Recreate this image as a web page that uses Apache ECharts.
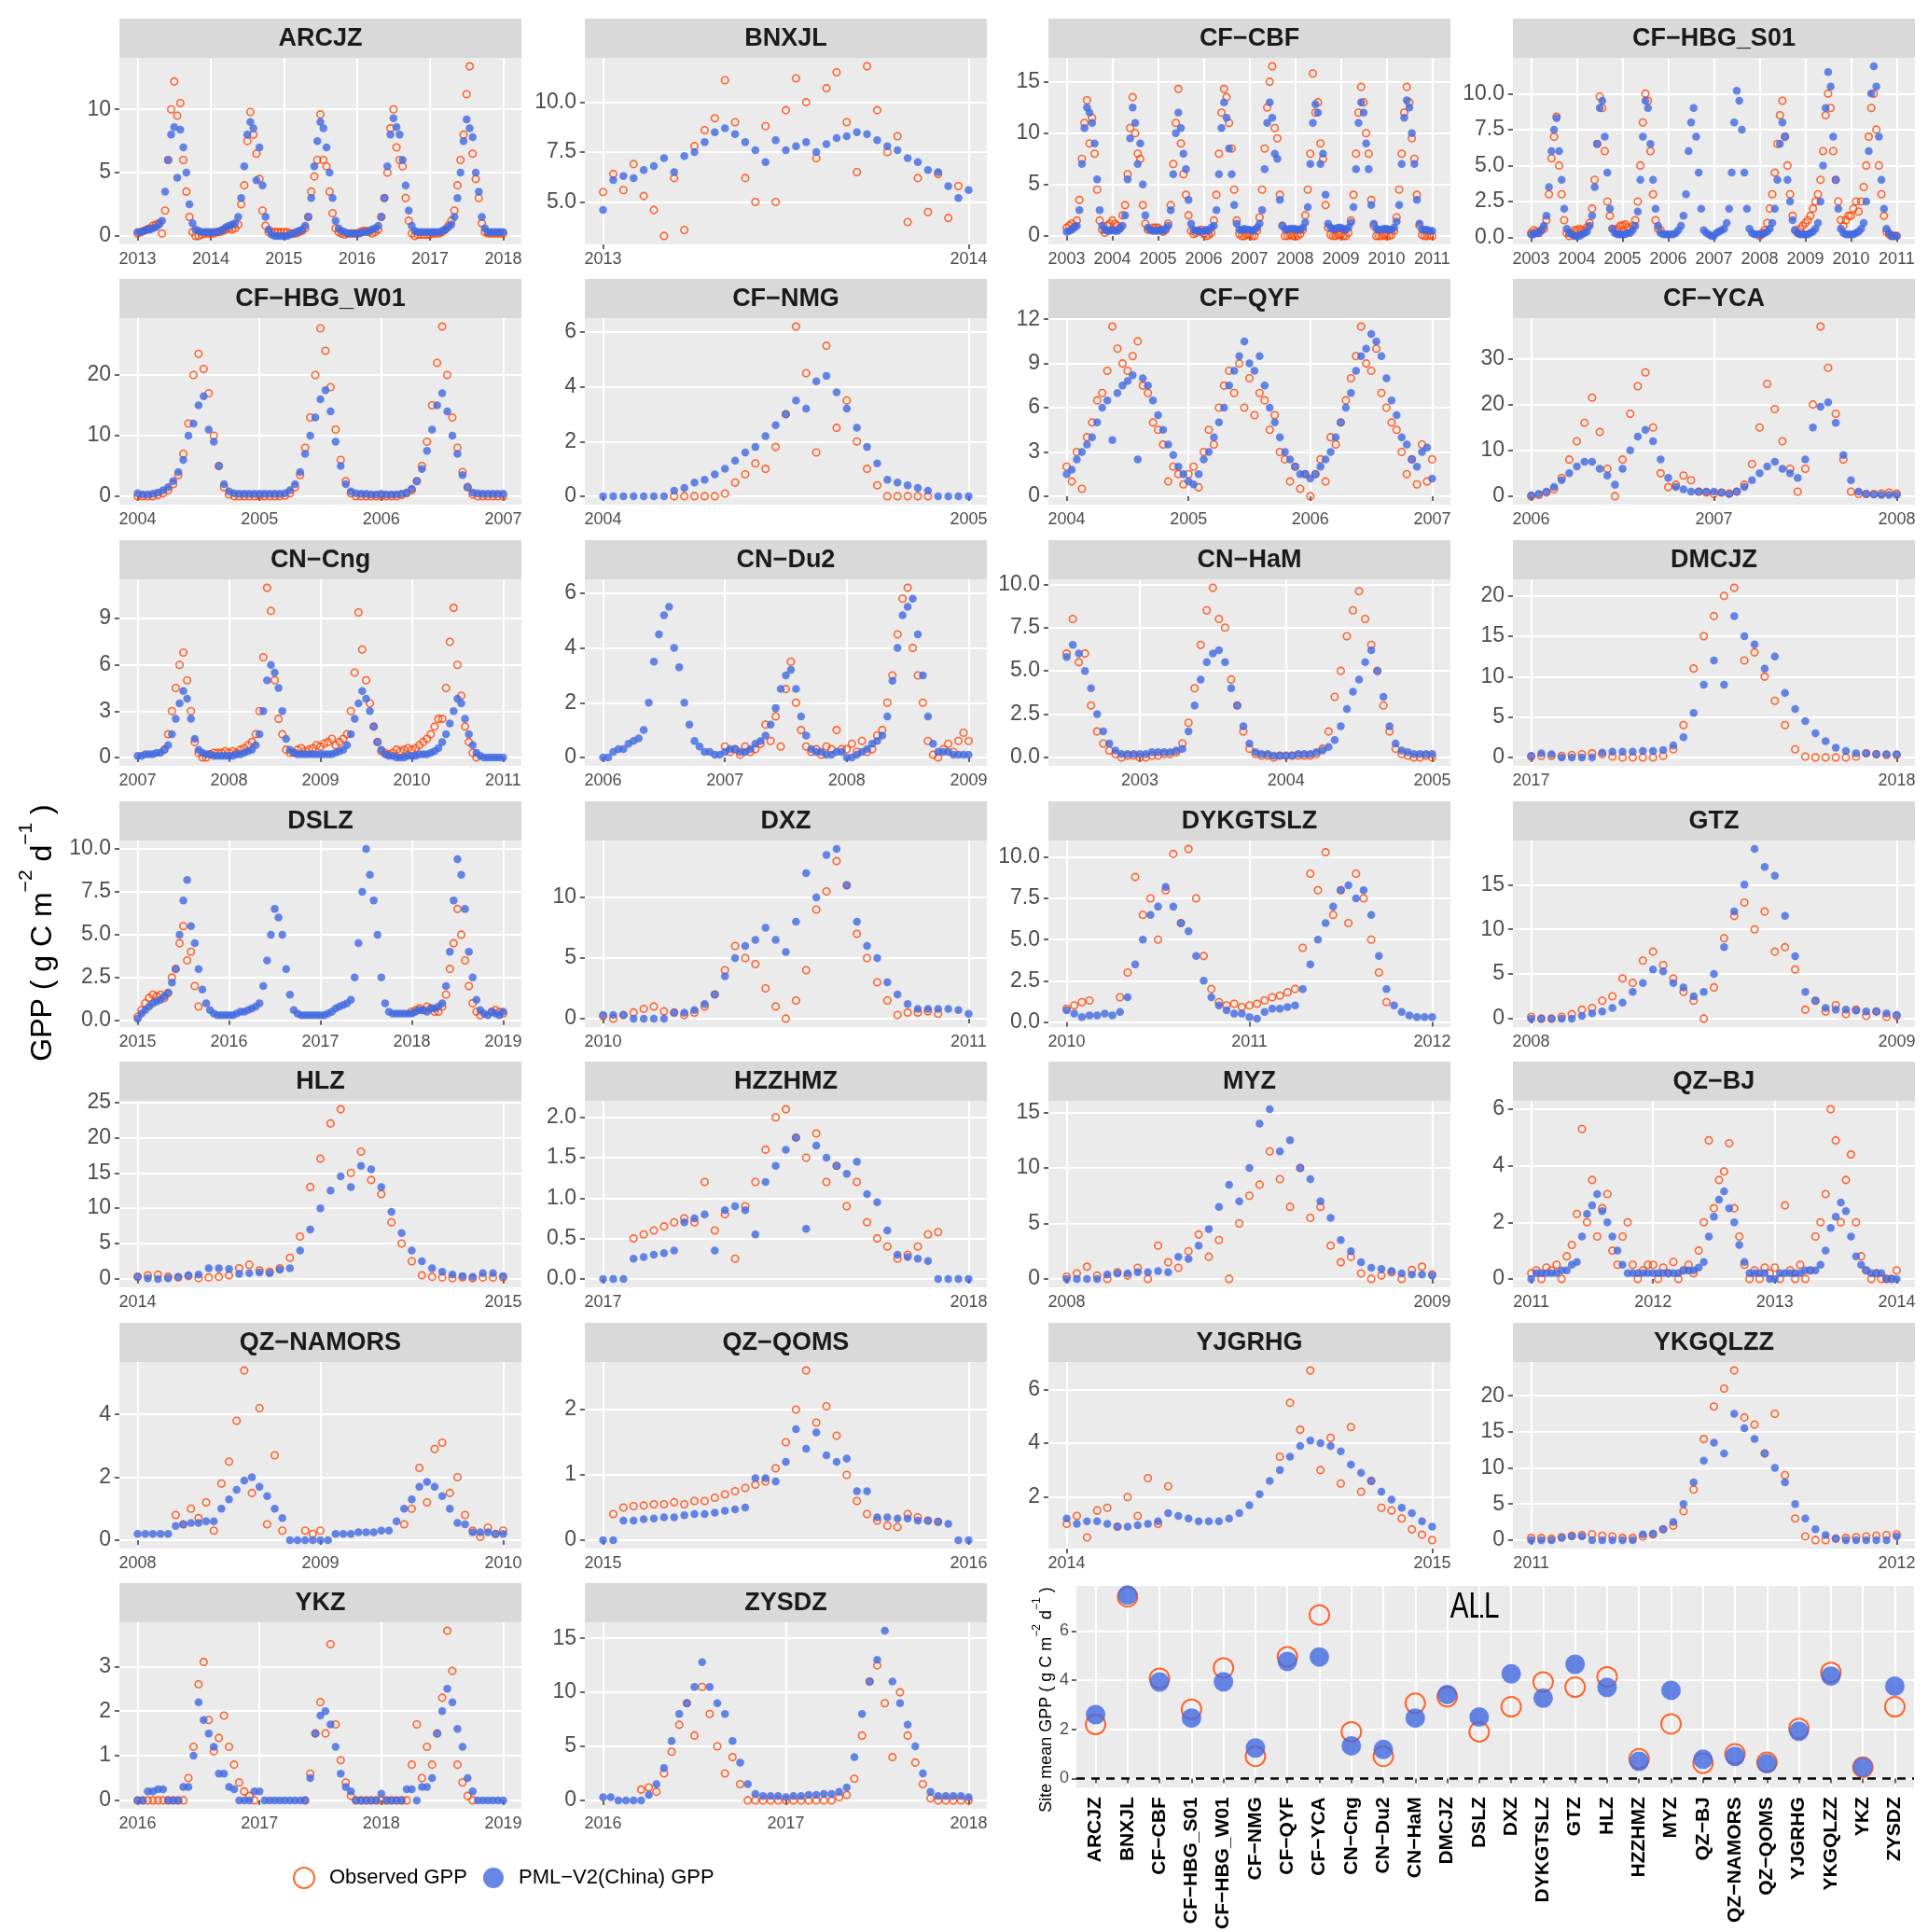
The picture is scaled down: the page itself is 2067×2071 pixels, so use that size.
<!DOCTYPE html>
<html>
<head>
<meta charset="utf-8" />
<title>GPP sites</title>
<script src="https://cdn.jsdelivr.net/npm/echarts@6/dist/echarts.min.js"></script>
<style>
  html, body { margin: 0; padding: 0; background: #fff; }
  #main { width: 2067px; height: 2071px; }
</style>
</head>
<body>
<div id="main"></div>
<script>
// sites, in panel order
const sites = ['ARCJZ', 'BNXJL', 'CF-CBF', 'CF-HBG_S01', 'CF-HBG_W01', 'CF-NMG', 'CF-QYF', 'CF-YCA',
  'CN-Cng', 'CN-Du2', 'CN-HaM', 'DMCJZ', 'DSLZ', 'DXZ', 'DYKGTSLZ', 'GTZ', 'HLZ', 'HZZHMZ', 'MYZ',
  'QZ-BJ', 'QZ-NAMORS', 'QZ-QOMS', 'YJGRHG', 'YKGQLZZ', 'YKZ', 'ZYSDZ'];
// time span of each site (decimal years) and samples per year of the arrays below
const startYear = [2013, 2013, 2003, 2003, 2004, 2004, 2004, 2006, 2007, 2006, 2002.5, 2017, 2015, 2010, 2010, 2008, 2014, 2017, 2008, 2011, 2008, 2015, 2014, 2011, 2016, 2016];
const endYear   = [2018, 2014, 2011, 2011, 2007, 2005, 2007, 2008, 2011, 2009, 2005, 2018, 2019, 2011, 2012, 2009, 2015, 2018, 2009, 2014, 2010, 2016, 2015, 2012, 2019, 2018];
const perYear   = [24, 36, 18, 18, 24, 36, 24, 24, 24, 24, 24, 36, 24, 36, 24, 36, 36, 36, 36, 24, 24, 36, 36, 36, 24, 24];
// y tick labels of each panel
const yTicks = [[0, 5, 10], [5, 7.5, 10], [0, 5, 10, 15], [0, 2.5, 5, 7.5, 10, 12.5], [0, 10, 20], [0, 2, 4, 6],
  [0, 3, 6, 9, 12], [0, 10, 20, 30], [0, 3, 6, 9], [0, 2, 4, 6], [0, 2.5, 5, 7.5, 10], [0, 5, 10, 15, 20],
  [0, 2.5, 5, 7.5, 10], [0, 5, 10], [0, 2.5, 5, 7.5, 10], [0, 5, 10, 15, 20], [0, 5, 10, 15, 20, 25],
  [0, 0.5, 1, 1.5, 2], [0, 5, 10, 15], [0, 2, 4, 6], [0, 2, 4], [0, 1, 2], [2, 4, 6], [0, 5, 10, 15, 20],
  [0, 1, 2, 3], [0, 5, 10, 15]];

// GPP (g C m-2 d-1), observed and PML-V2 estimates
const obs_ARCJZ = [0.2,0.3,0.4,0.5,0.6,0.8,0.9,1.0,0.2,2.0,6.0,10.0,12.2,9.5,10.5,6.0,3.5,1.5,0.3,0.0,0.0,0.1,0.2,0.2,
  0.2,0.2,0.3,0.3,0.4,0.5,0.6,0.5,0.6,0.9,2.5,4.0,7.5,9.8,8.0,6.5,4.5,2.0,0.8,0.3,0.3,0.3,0.3,0.3,
  0.3,0.3,0.2,0.2,0.2,0.3,0.4,0.6,1.5,3.5,4.7,6.0,9.6,6.0,5.5,3.5,1.8,0.6,0.3,0.2,0.1,0.2,0.2,0.2,
  0.2,0.3,0.4,0.4,0.3,0.2,0.3,0.5,1.5,3.0,5.0,8.5,10.0,7.0,6.0,5.5,3.0,1.2,0.2,0.0,0.1,0.1,0.1,0.1,
  0.1,0.2,0.2,0.2,0.3,0.5,0.8,1.2,2.0,4.0,6.0,8.0,11.2,13.4,6.5,4.5,3.0,1.0,0.3,0.2,0.2,0.2,0.2,0.2,0.2];
const pml_ARCJZ = [0.3,0.3,0.4,0.5,0.5,0.6,0.7,0.9,1.2,3.5,6.0,8.0,8.6,4.6,8.4,7.0,5.0,2.5,1.0,0.5,0.4,0.3,0.3,0.3,
  0.3,0.3,0.3,0.4,0.5,0.7,0.8,0.9,1.0,1.5,3.0,5.5,8.0,9.0,8.5,4.4,7.0,4.0,1.5,0.5,0.1,0.0,0.0,0.0,
  0.0,0.0,0.1,0.2,0.3,0.4,0.5,0.8,1.5,3.0,5.5,7.5,9.0,8.5,7.0,5.0,3.0,1.2,0.6,0.4,0.3,0.2,0.2,0.2,
  0.2,0.2,0.3,0.3,0.4,0.5,0.6,0.8,1.5,3.0,5.5,8.0,9.3,8.6,8.0,6.0,4.0,2.0,0.8,0.4,0.3,0.3,0.3,0.3,
  0.3,0.3,0.3,0.3,0.4,0.5,0.7,0.9,1.5,3.0,5.0,7.5,9.2,8.5,7.8,5.0,3.5,1.5,0.6,0.3,0.3,0.3,0.3,0.3,0.3];

const obs_BNXJL = [5.5,6.4,5.6,6.9,5.3,4.6,3.3,6.2,3.6,7.8,8.6,9.2,11.1,9.0,6.2,5.0,8.8,5.0,9.6,11.2,10.0,7.2,10.7,11.5,
  9.0,6.5,11.8,9.6,7.5,8.3,4.0,6.2,4.5,6.4,4.2,5.8,null];
const pml_BNXJL = [4.6,6.1,6.3,6.2,6.6,6.8,7.2,6.5,7.3,7.5,8.0,8.5,8.7,8.4,8.0,7.6,7.0,8.1,7.6,7.8,8.0,7.5,7.9,8.2,
  8.3,8.5,8.4,8.1,7.8,7.6,7.2,7.0,6.6,6.5,5.8,5.2,5.6];

const obs_CF_CBF = [0.8,1.0,1.2,0.9,1.5,3.5,7.5,11.0,13.2,9.0,11.5,8.0,4.5,1.5,0.6,0.3,1.0,1.2,
  1.5,1.2,1.0,0.8,2.0,3.0,6.0,10.5,13.5,10.0,8.0,7.5,3.0,1.2,0.6,0.6,0.8,0.8,
  0.8,0.6,0.4,0.6,1.2,3.0,7.0,11.0,14.3,9.0,6.0,4.0,2.0,0.5,0.2,0.3,0.5,0.6,
  0.2,0.0,0.1,0.3,1.5,4.0,8.0,12.0,14.3,13.5,11.0,8.5,4.5,1.5,0.2,0.0,0.0,0.1,
  0.1,0.0,0.0,0.5,1.8,4.5,8.5,12.5,15.0,16.5,10.5,9.5,4.0,1.0,0.0,0.0,0.1,0.0,
  0.0,0.0,0.2,0.6,2.0,4.5,8.0,15.8,12.0,13.0,9.0,7.5,3.0,0.8,0.1,0.0,0.0,0.1,
  0.1,0.0,0.0,0.3,1.5,4.0,8.0,12.0,14.5,13.0,10.0,8.0,3.5,1.0,0.0,0.0,0.0,0.1,
  0.0,0.0,0.1,0.5,1.8,4.5,8.0,12.0,14.5,13.0,9.5,7.5,4.0,1.0,0.1,0.0,0.0,0.1,0.0];
const pml_CF_CBF = [0.4,0.5,0.6,0.8,1.0,2.5,7.0,10.5,12.5,12.0,11.0,9.0,5.5,2.5,1.0,0.6,0.5,0.5,
  0.6,0.5,0.5,0.7,1.0,2.0,5.5,9.5,12.5,11.0,7.0,9.0,5.0,2.0,0.8,0.6,0.5,0.5,
  0.5,0.6,0.5,0.7,1.0,2.5,6.0,10.0,12.0,10.5,8.0,6.5,3.5,1.2,0.6,0.5,0.5,0.4,
  0.5,0.6,0.5,0.8,1.0,2.5,6.0,10.5,13.0,11.5,8.5,6.0,3.0,1.2,0.6,0.6,0.7,0.6,
  0.6,0.5,0.6,0.8,1.2,2.5,6.5,11.0,13.0,11.5,8.0,7.5,3.5,1.0,0.7,0.6,0.7,0.7,
  0.7,0.6,0.6,0.8,1.3,2.8,7.0,11.0,12.8,12.0,7.0,8.0,4.0,1.2,0.8,0.7,0.7,0.8,
  0.8,0.7,0.6,0.8,1.3,2.8,6.5,11.0,13.0,12.0,9.0,6.5,3.0,1.2,0.7,0.6,0.6,0.7,
  0.7,0.6,0.6,0.8,1.4,3.0,7.0,11.5,13.2,12.5,10.0,7.0,3.5,1.2,0.6,0.6,0.6,0.5,0.5];

const obs_CF_HBG_S01 = [0.3,0.5,0.4,0.3,0.5,0.6,1.2,3.0,5.5,7.0,8.4,5.0,3.0,1.2,0.3,0.1,0.3,0.5,
  0.5,0.6,0.5,0.5,0.7,1.0,2.0,4.0,6.5,9.8,9.0,6.0,2.5,1.5,0.6,0.5,0.6,0.8,
  0.8,0.9,0.7,0.6,0.8,1.2,2.5,5.0,8.0,10.0,9.5,6.0,3.0,1.2,0.6,0.5,null,null,
  null,null,null,null,null,null,null,null,null,null,null,null,null,null,null,null,null,null,
  null,null,null,null,null,null,null,null,null,null,null,null,null,null,null,null,null,null,
  0.1,0.3,0.5,1.0,2.0,3.0,4.5,6.5,8.5,9.5,7.0,5.0,3.0,1.5,0.5,0.3,0.6,0.8,
  1.0,1.2,1.5,2.0,2.5,3.0,4.0,6.0,8.5,10.0,9.0,6.0,4.0,2.5,1.2,0.8,1.2,1.5,
  1.5,2.0,2.5,1.8,2.5,3.5,5.0,7.0,9.0,10.0,7.5,5.0,3.0,1.5,0.4,0.2,0.1,0.1,0.1];
const pml_CF_HBG_S01 = [0.2,0.2,0.3,0.3,0.5,0.8,1.5,3.5,6.0,7.5,8.3,6.0,4.0,2.0,0.6,0.3,0.2,0.1,
  0.1,0.1,0.2,0.3,0.4,0.8,1.5,3.5,6.5,9.0,9.5,7.0,4.5,2.0,0.6,0.3,0.2,0.2,
  0.2,0.2,0.3,0.3,0.5,0.8,1.8,4.0,7.0,9.5,9.0,6.5,4.0,2.0,0.8,0.3,0.2,0.2,
  0.2,0.2,0.2,0.3,0.5,0.8,1.5,3.0,6.0,8.0,9.0,7.0,4.5,2.0,0.5,0.3,0.2,0.1,
  0.1,0.3,0.4,0.5,0.6,1.0,2.0,4.5,8.0,10.2,9.5,7.5,4.5,2.0,0.6,0.3,0.2,0.2,
  0.2,0.2,0.3,0.4,0.6,1.0,2.0,4.0,6.5,8.0,7.0,4.0,2.5,1.2,0.5,0.3,0.2,0.2,
  0.2,0.2,0.3,0.4,0.6,1.0,2.5,5.0,9.0,11.5,10.5,7.0,4.0,2.0,0.6,0.3,0.2,0.2,
  0.2,0.2,0.3,0.4,0.6,1.0,2.5,6.0,10.0,11.9,10.5,7.0,4.0,2.0,0.6,0.3,0.1,0.1,0.1];

const obs_CF_HBG_W01 = [0.0,0.0,0.0,0.0,0.2,0.5,1.0,2.0,3.5,7.0,12.0,20.0,23.5,21.0,17.0,10.0,5.0,1.5,0.3,0.0,0.0,0.0,0.0,0.0,
  0.0,0.0,0.0,0.0,0.0,0.1,0.5,1.5,3.5,8.0,13.0,20.0,27.7,24.0,18.0,11.0,6.0,2.5,0.5,0.0,0.0,0.0,0.0,0.0,
  0.0,0.0,0.0,0.0,0.2,0.5,1.0,2.5,5.0,9.0,15.0,22.0,28.0,20.0,13.0,8.0,4.0,1.5,0.3,0.0,0.0,0.0,0.0,0.0,0.0];
const pml_CF_HBG_W01 = [0.5,0.3,0.3,0.4,0.6,1.0,1.5,2.5,4.0,6.0,10.0,12.0,15.0,16.5,11.0,9.0,5.0,2.0,0.8,0.5,0.4,0.4,0.4,0.4,
  0.4,0.4,0.4,0.4,0.4,0.5,1.0,2.0,4.0,7.0,10.0,13.0,16.0,17.5,14.0,9.0,5.0,2.0,0.8,0.5,0.4,0.4,0.3,0.3,
  0.4,0.3,0.3,0.3,0.4,0.6,1.2,2.5,4.5,7.5,11.0,15.0,17.0,14.0,10.0,7.0,3.5,1.5,0.6,0.5,0.4,0.4,0.4,0.4,0.4];

const obs_CF_NMG = [null,null,null,null,null,null,null,0.0,0.0,0.0,0.0,0.0,0.1,0.5,0.8,1.2,1.0,1.8,3.0,6.2,4.5,1.6,5.5,2.5,
  3.5,2.0,1.0,0.4,0.0,0.0,0.0,0.0,0.0,null,null,null,null];
const pml_CF_NMG = [0,0,0,0,0,0,0,0.2,0.3,0.5,0.6,0.8,1.0,1.3,1.6,1.8,2.2,2.6,3.0,3.5,3.2,4.2,4.4,3.8,
  3.2,2.5,1.8,1.2,0.6,0.5,0.4,0.3,0.2,0.0,0.0,0.0,0.0];

const obs_CF_QYF = [2.0,1.0,3.0,0.5,4.0,5.0,6.5,7.0,8.5,11.5,10.0,9.0,8.5,9.5,10.5,7.5,7.0,5.0,4.5,3.5,1.0,2.0,1.5,0.8,
  1.5,2.0,0.6,3.0,4.5,3.5,6.0,7.5,8.5,7.0,9.0,6.0,8.0,5.5,7.0,6.5,4.5,5.5,3.0,2.5,1.0,2.0,0.5,1.5,
  0.0,1.5,2.5,1.0,4.0,3.5,5.0,6.5,8.0,9.5,11.5,9.0,8.5,10.0,7.0,6.0,5.0,4.5,3.0,1.5,2.5,0.8,3.5,1.0,2.5];
const pml_CF_QYF = [1.5,1.8,2.5,3.0,3.5,4.0,5.0,6.0,6.5,3.8,7.0,7.5,7.8,8.2,2.5,8.0,7.5,6.5,5.5,4.5,3.5,2.8,2.0,1.5,
  1.0,0.8,1.5,2.5,3.0,4.0,5.0,6.0,7.5,8.5,9.5,10.5,9.0,8.5,9.5,7.5,6.0,5.0,4.0,3.0,2.5,2.0,1.5,1.5,
  1.2,1.5,2.0,2.5,3.0,4.0,5.0,6.0,7.0,8.5,9.5,10.0,11.0,10.5,9.5,8.0,6.5,5.5,4.0,3.5,2.5,2.0,3.0,3.3,1.2];

const obs_CF_YCA = [0.0,0.3,0.8,1.5,4.0,8.0,12.0,16.0,21.5,14.0,6.0,0.0,8.0,18.0,24.0,27.0,15.0,5.0,2.0,2.5,4.5,3.5,1.0,0.8,
  0.5,0.8,0.6,1.0,2.5,7.0,15.0,24.5,19.0,12.0,6.0,1.0,6.0,20.0,37.0,28.0,18.0,8.0,1.0,0.5,0.5,0.5,0.6,0.8,0.6];
const pml_CF_YCA = [0.2,0.5,1.0,2.0,3.5,5.0,6.5,7.5,7.5,6.0,4.5,2.5,6.0,10.0,13.0,14.5,12.0,8.0,4.0,2.0,1.5,1.0,1.0,1.0,
  1.0,0.8,0.5,1.0,2.0,3.5,5.0,6.5,7.5,6.0,5.0,4.0,8.0,15.0,19.5,20.5,16.0,9.0,3.5,1.0,0.5,0.4,0.3,0.3,0.3];

const obs_CN_Cng = [null,null,null,null,null,null,null,0.5,1.5,3.0,4.5,6.0,6.8,5.0,3.0,1.0,0.3,0.0,0.0,0.2,0.3,0.3,0.3,0.4,
  0.3,0.4,0.3,0.5,0.6,0.8,1.0,1.5,3.0,6.5,11.0,9.5,5.0,2.5,1.5,0.5,0.3,0.3,0.5,0.6,0.4,0.5,0.6,0.8,
  0.7,0.9,1.0,1.2,0.8,1.0,1.2,1.5,3.0,5.5,9.4,7.0,5.0,3.5,2.0,1.0,0.4,0.3,0.2,0.3,0.5,0.4,0.5,0.6,
  0.5,0.6,0.8,1.0,1.2,1.5,2.0,2.5,2.5,4.5,7.5,9.7,6.0,4.0,2.0,1.0,0.3,0.0,null,null,null,null,null,null,null];
const pml_CN_Cng = [0.1,0.1,0.2,0.2,0.2,0.3,0.3,0.5,0.8,1.5,2.5,3.5,4.3,3.8,2.5,1.2,0.5,0.3,0.2,0.2,0.1,0.1,0.1,0.1,
  0.1,0.1,0.2,0.2,0.3,0.4,0.5,0.8,1.5,3.0,5.0,6.0,5.5,4.5,3.0,1.2,0.5,0.3,0.2,0.2,0.2,0.2,0.2,0.2,
  0.2,0.2,0.2,0.2,0.3,0.4,0.5,0.8,1.5,2.5,3.5,4.3,3.8,3.0,2.0,1.0,0.5,0.2,0.1,0.1,0.0,0.0,0.0,0.1,
  0.1,0.1,0.2,0.2,0.2,0.3,0.4,0.6,1.0,1.5,2.2,3.0,3.8,3.5,2.5,1.5,0.8,0.3,0.1,0.0,0.0,0.0,0.0,0.0,0.0];

const obs_CN_Du2 = [null,null,null,null,null,null,null,null,null,null,null,null,null,null,null,null,null,null,null,null,null,null,null,null,
  0.4,0.2,0.3,0.1,0.4,0.2,0.3,0.5,1.2,0.6,1.5,0.4,2.5,3.5,2.0,1.0,0.4,0.2,0.3,0.1,0.4,0.3,1.0,0.3,
  0.3,0.5,0.2,0.6,0.2,0.3,0.8,1.0,2.0,3.0,4.5,5.8,6.2,4.0,3.0,2.0,0.6,0.1,0.0,0.3,0.5,0.2,0.6,0.9,0.6];
const pml_CN_Du2 = [0.0,0.0,0.2,0.3,0.3,0.5,0.6,0.7,1.0,2.0,3.5,4.5,5.2,5.5,4.0,3.3,2.0,1.2,0.6,0.4,0.2,0.2,0.1,0.1,
  0.2,0.3,0.3,0.2,0.2,0.3,0.5,0.6,0.8,1.2,1.8,2.5,3.0,3.2,2.5,1.5,0.8,0.3,0.2,0.2,0.1,0.1,0.2,0.2,
  0.0,0.0,0.1,0.2,0.3,0.5,0.6,0.8,1.5,2.8,4.0,5.2,5.5,5.8,4.5,3.0,1.5,0.5,0.2,0.2,0.2,0.1,0.1,0.1,0.1];

const obs_CN_HaM = [6.0,8.0,5.5,6.0,3.0,1.5,0.8,0.4,0.2,0.0,0.1,0.1,
  0.0,0.0,0.1,0.1,0.2,0.2,0.3,0.8,2.0,4.0,6.5,8.5,9.8,8.0,7.5,4.5,3.0,1.5,0.5,0.2,0.1,0.1,0.0,0.1,
  0.1,0.1,0.1,0.1,0.1,0.2,0.5,1.5,3.5,5.0,7.0,8.5,9.6,8.0,6.5,5.0,3.0,1.5,0.5,0.2,0.1,0.0,0.0,0.1,0.0];
const pml_CN_HaM = [5.8,6.5,6.0,5.0,4.0,2.5,1.5,0.8,0.4,0.2,0.2,0.2,
  0.2,0.2,0.3,0.3,0.3,0.3,0.4,0.5,1.5,3.0,4.5,5.5,6.0,6.2,5.5,4.0,3.0,1.8,0.8,0.3,0.2,0.2,0.1,0.1,
  0.1,0.1,0.2,0.2,0.2,0.3,0.4,0.6,1.0,1.8,2.8,3.8,4.5,5.5,6.2,5.0,3.5,1.8,0.8,0.4,0.3,0.2,0.2,0.2,0.2];

const obs_DMCJZ = [0.1,0.2,0.2,0.2,0.3,0.4,0.5,0.4,0.1,0.0,0.0,0.0,0.0,0.2,1.0,4.0,11.0,15.0,17.5,20.0,21.0,12.0,13.0,10.0,
  7.0,4.0,1.0,0.1,0.0,0.0,0.0,0.0,0.1,0.5,0.4,0.3,0.3];
const pml_DMCJZ = [0.2,0.5,0.4,0.0,0.0,0.0,0.0,0.6,0.7,0.7,0.7,0.8,0.8,0.9,1.5,2.5,5.5,9.0,12.0,9.0,17.5,15.0,14.0,11.0,
  12.5,8.0,6.0,4.5,3.0,2.0,1.2,0.8,0.5,0.5,0.4,0.4,0.4];

const obs_DSLZ = [0.2,0.6,1.0,1.3,1.5,1.4,1.5,1.3,1.6,2.5,3.0,4.5,5.5,3.5,4.0,2.0,0.8,null,null,null,null,null,null,null,
  null,null,null,null,null,null,null,null,null,null,null,null,null,null,null,null,null,null,null,null,null,null,null,null,
  null,null,null,null,null,null,null,null,null,null,null,null,null,null,null,null,null,null,null,null,null,null,null,null,
  0.5,0.6,0.7,0.6,0.8,0.7,0.5,0.5,0.8,1.5,3.0,4.5,6.5,5.0,3.5,2.0,1.0,0.5,0.3,null,null,0.5,0.6,0.5,0.4];
const pml_DSLZ = [0.1,0.4,0.6,0.8,1.0,1.1,1.2,1.4,1.6,2.2,3.0,5.0,7.0,8.2,5.5,4.5,3.0,1.8,1.0,0.6,0.4,0.3,0.3,0.3,
  0.3,0.3,0.4,0.5,0.5,0.6,0.7,0.8,1.0,2.0,3.5,5.0,6.5,6.0,5.0,3.0,1.5,0.6,0.4,0.3,0.3,0.3,0.3,0.3,
  0.3,0.3,0.4,0.5,0.7,0.8,0.9,1.0,1.2,2.5,4.5,7.5,10.0,8.5,7.0,5.0,2.5,1.0,0.5,0.4,0.4,0.4,0.4,0.4,
  0.4,0.5,0.6,0.6,0.5,0.7,0.7,0.8,1.0,2.0,4.0,7.0,9.4,8.5,6.5,4.0,2.5,1.2,0.6,0.4,0.3,0.5,0.4,0.3,0.5];

const obs_DXZ = [0.2,0.0,0.3,0.5,0.8,1.0,0.6,0.5,0.3,0.5,1.0,2.0,4.0,6.0,5.0,4.5,2.5,1.0,0.0,1.5,4.0,9.0,10.5,13.0,
  11.0,7.0,5.0,3.0,1.5,0.3,0.5,0.5,0.6,0.4,null,null,null];
const pml_DXZ = [0.3,0.3,0.3,0.0,0.0,0.0,0.0,0.5,0.5,0.7,1.2,2.0,3.5,5.0,6.0,6.5,7.5,6.5,5.5,8.0,12.0,10.0,13.5,14.0,
  11.0,8.0,6.0,5.0,3.0,2.0,1.2,0.8,0.8,0.8,0.8,0.7,0.4];

const obs_DYKGTSLZ = [0.8,1.0,1.2,1.3,null,null,null,1.5,3.0,8.8,6.5,7.5,5.0,8.0,10.2,6.0,10.5,7.5,4.0,2.0,1.2,1.0,1.1,0.9,
  1.0,1.1,1.3,1.5,1.6,1.8,2.0,4.5,9.0,8.0,10.3,6.5,8.0,6.0,9.0,7.5,5.0,3.0,1.2,null,null,null,null,null,null];
const pml_DYKGTSLZ = [0.7,0.5,0.3,0.4,0.4,0.5,0.4,0.6,1.5,3.5,5.0,6.5,7.0,8.2,7.0,6.0,5.5,4.0,2.5,1.5,1.0,0.7,0.5,0.5,
  0.3,0.2,0.6,0.8,0.8,0.9,1.0,2.0,3.5,5.0,6.0,7.0,8.0,8.3,7.5,8.0,6.5,4.0,2.0,1.0,0.6,0.4,0.3,0.3,0.3];

const obs_GTZ = [0.2,0.0,0.0,0.2,0.5,1.0,1.2,2.0,2.5,4.5,4.0,6.5,7.5,6.0,4.5,3.0,2.0,0.0,3.5,9.0,11.5,13.0,10.0,12.0,
  7.5,8.0,5.5,1.0,2.0,0.8,1.5,0.5,1.0,0.3,0.8,0.2,0.3];
const pml_GTZ = [0.0,0.0,0.0,0.0,0.0,0.3,0.6,0.8,1.2,1.8,3.0,4.0,5.5,5.3,4.0,3.5,2.5,3.0,5.0,8.0,12.0,15.0,19.0,17.0,
  16.0,11.5,7.0,3.0,2.0,1.2,1.0,1.0,0.9,0.8,0.8,0.6,0.4];

const obs_HLZ = [0.3,0.5,0.6,0.3,0.2,0.4,0.1,0.2,0.3,0.5,1.5,2.0,1.2,1.0,1.5,3.0,6.0,13.0,17.0,22.0,24.0,15.0,18.0,14.0,
  12.0,8.0,5.0,2.5,0.5,0.3,0.2,0.1,0.2,0.1,0.2,0.2,0.2];
const pml_HLZ = [0.3,0.1,0.0,0.1,0.3,0.5,0.6,1.5,1.5,1.4,0.7,0.8,0.9,0.8,1.3,1.5,4.0,7.0,10.0,12.5,14.5,13.0,16.0,15.5,
  13.0,9.5,6.5,4.0,2.5,1.5,1.0,0.6,0.4,0.3,0.8,0.8,0.4];

const obs_HZZHMZ = [null,null,null,0.5,0.55,0.6,0.65,0.7,0.75,0.7,1.2,0.6,0.8,0.25,0.9,1.2,1.6,2.0,2.1,1.75,1.5,1.8,1.2,1.4,
  0.9,1.2,0.7,0.5,0.4,0.25,0.3,0.4,0.55,0.58,null,null,null];
const pml_HZZHMZ = [0.0,0.0,0.0,0.25,0.27,0.3,0.32,0.35,0.7,0.75,0.8,0.35,0.85,0.9,0.85,0.55,1.2,1.4,1.6,1.75,0.62,1.65,1.5,1.4,
  1.3,1.45,1.05,0.95,0.6,0.3,0.27,0.25,0.22,0.0,0.0,0.0,0.0];

const obs_MYZ = [0.2,0.5,1.1,0.3,0.0,0.6,0.3,1.0,0.0,3.0,1.5,1.0,2.5,4.0,2.0,3.5,0.0,5.0,7.5,8.5,11.5,9.0,6.5,10.0,
  5.5,6.5,3.0,1.5,2.0,0.5,0.0,0.3,0.6,0.0,0.8,1.1,0.4];
const pml_MYZ = [0.0,0.0,0.0,0.0,0.4,0.5,0.5,0.6,0.6,0.7,0.6,2.0,1.8,3.0,4.5,6.5,8.5,7.0,10.0,14.0,15.3,11.5,12.5,10.0,
  9.0,7.0,5.5,3.5,2.5,1.5,1.0,0.9,0.7,0.5,0.4,0.4,0.3];

const obs_QZ_BJ = [0.2,0.3,0.0,0.4,0.3,0.5,0.0,0.8,1.2,2.3,5.3,2.0,3.5,1.5,2.5,3.0,1.0,0.5,1.5,2.0,0.5,0.0,0.3,0.5,
  0.5,0.0,0.4,0.2,0.6,0.0,0.3,0.5,0.2,1.0,2.0,4.9,2.5,3.5,3.8,4.8,2.5,1.5,0.5,0.0,0.3,0.0,0.4,0.2,
  0.4,0.0,2.6,0.3,0.0,0.5,0.0,0.3,1.5,2.0,3.0,6.0,4.9,2.0,3.5,4.4,2.0,0.8,0.3,0.0,0.2,0.0,0.0,0.0,0.3];
const pml_QZ_BJ = [0.0,0.2,0.2,0.2,0.2,0.2,0.3,0.3,0.5,0.6,1.5,2.3,2.6,3.0,2.4,2.0,1.5,1.0,0.5,0.2,0.2,0.2,0.2,0.2,
  0.2,0.2,0.2,0.2,0.2,0.2,0.3,0.3,0.3,0.4,0.6,1.5,2.2,2.8,3.1,2.5,2.0,1.2,0.6,0.2,0.2,0.2,0.2,0.0,
  0.0,0.2,0.2,0.2,0.2,0.2,0.3,0.3,0.3,0.5,1.0,1.8,2.2,2.7,2.4,1.5,0.8,0.5,0.3,0.2,0.2,0.2,0.0,0.0,0.0];

const obs_QZ_NAMORS = [null,null,null,null,null,0.8,0.5,1.0,0.7,1.2,0.3,1.8,2.5,3.8,5.4,1.5,4.2,0.5,2.7,0.3,null,null,0.3,0.2,
  0.3,null,null,null,null,null,null,null,null,null,null,0.5,1.0,2.3,1.2,2.9,3.1,1.5,2.0,0.8,0.3,0.1,0.4,0.2,0.3];
const pml_QZ_NAMORS = [0.2,0.2,0.2,0.2,0.2,0.45,0.5,0.55,0.55,0.6,0.6,1.0,1.3,1.6,1.9,2.0,1.7,1.4,1.0,0.7,0.0,0.0,0.0,0.0,
  0.0,0.0,0.2,0.2,0.2,0.25,0.25,0.25,0.3,0.3,0.6,1.0,1.3,1.7,1.85,1.7,1.4,1.0,0.55,0.5,0.25,0.25,0.25,0.2,0.2];

const obs_QZ_QOMS = [null,0.4,0.5,0.52,0.53,0.55,0.55,0.58,0.55,0.6,0.6,0.65,0.7,0.75,0.8,0.85,0.9,1.1,1.5,2.0,2.6,1.8,2.05,1.6,
  1.0,0.6,0.4,0.3,0.22,0.2,0.4,0.35,0.3,0.28,null,null,null];
const pml_QZ_QOMS = [0.0,0.0,0.3,0.3,0.32,0.33,0.35,0.35,0.38,0.4,0.4,0.42,0.45,0.47,0.5,0.95,0.95,0.9,1.2,1.7,1.4,1.65,1.3,1.2,
  1.25,0.75,0.75,0.35,0.35,0.33,0.33,0.3,0.3,0.28,0.25,0.0,0.0];

const obs_YJGRHG = [1.0,1.3,0.5,1.5,1.6,0.9,2.0,1.3,2.7,1.0,2.4,null,null,null,null,null,null,null,null,null,null,3.5,5.5,4.5,
  6.7,3.0,4.2,2.5,4.6,2.2,2.6,1.6,1.5,1.2,0.8,0.6,0.4];
const pml_YJGRHG = [1.2,1.0,1.1,1.1,1.0,0.9,0.9,0.95,1.0,1.1,1.4,1.3,1.2,1.1,1.1,1.1,1.2,1.4,1.7,2.1,2.6,3.0,3.5,3.9,
  4.1,4.0,3.9,3.7,3.2,2.9,2.6,2.2,1.9,1.6,1.4,1.1,0.9];

const obs_YKGQLZZ = [0.3,0.3,0.2,0.4,0.6,0.7,0.8,0.6,0.5,0.3,0.3,0.5,0.8,1.5,2.0,4.0,7.0,14.0,18.5,21.0,23.5,17.0,16.0,12.0,
  17.5,9.0,3.0,0.5,0.0,0.0,0.2,0.3,0.4,0.5,0.6,0.7,0.8];
const pml_YKGQLZZ = [0.0,0.0,0.0,0.3,0.5,0.5,0.0,0.0,0.0,0.0,0.0,0.8,0.9,1.5,2.5,5.0,8.0,11.0,13.5,12.0,17.5,15.5,14.0,12.0,
  10.0,8.0,5.0,3.0,1.5,0.7,0.2,0.0,0.0,0.0,0.0,0.0,0.5];

const obs_YKZ = [0.0,0.0,0.0,0.0,0.0,0.0,0.0,0.0,0.0,0.0,0.5,1.2,2.6,3.1,1.8,1.1,1.4,1.9,1.2,0.8,0.4,0.2,0.1,0.0,
  null,null,null,null,null,null,null,null,null,0.0,0.6,1.5,2.2,1.5,3.5,1.7,0.9,0.4,0.1,0.0,0.0,0.0,0.0,0.0,
  0.0,0.0,0.0,0.0,0.0,0.0,0.8,1.7,0.5,1.2,0.8,1.5,2.3,3.8,2.9,0.8,0.4,0.1,0.0,null,null,null,null,null,null];
const pml_YKZ = [0.0,0.0,0.2,0.2,0.25,0.25,0.0,0.0,0.0,0.3,0.3,1.0,2.2,1.8,1.5,1.2,0.6,0.6,0.3,0.25,0.0,0.0,0.0,0.2,
  0.2,0.0,0.0,0.0,0.0,0.0,0.0,0.0,0.0,0.0,0.5,1.5,1.9,2.0,1.7,1.2,0.6,0.3,0.2,0.0,0.0,0.0,0.0,0.0,
  0.15,0.0,0.0,0.0,0.0,0.25,0.25,0.0,0.3,0.3,0.5,1.5,2.0,2.5,2.2,1.6,1.2,0.5,0.2,0.0,0.0,0.0,0.0,0.0,0.0];

const obs_ZYSDZ = [null,null,null,null,null,1.0,1.2,0.8,2.5,4.5,7.0,9.0,6.0,10.5,8.0,5.0,2.5,4.0,1.5,0.0,0.0,0.0,0.0,0.0,
  0.0,0.0,0.0,0.0,0.0,0.0,0.0,0.3,0.5,2.0,6.0,11.0,12.5,9.0,4.0,10.0,6.0,3.5,1.5,0.2,0.0,0.0,0.0,0.0,0.0];
const pml_ZYSDZ = [0.3,0.3,0.0,0.0,0.0,0.0,0.5,1.5,3.0,5.5,8.0,9.0,10.5,12.8,10.5,9.0,8.0,5.5,3.5,1.5,0.6,0.4,0.4,0.4,
  0.3,0.4,0.4,0.5,0.5,0.6,0.6,0.8,1.2,4.0,8.0,11.0,13.0,15.7,11.0,9.0,7.0,5.0,2.5,0.8,0.4,0.4,0.4,0.4,0.3];

const obsSeries = [obs_ARCJZ, obs_BNXJL, obs_CF_CBF, obs_CF_HBG_S01, obs_CF_HBG_W01, obs_CF_NMG, obs_CF_QYF, obs_CF_YCA,
  obs_CN_Cng, obs_CN_Du2, obs_CN_HaM, obs_DMCJZ, obs_DSLZ, obs_DXZ, obs_DYKGTSLZ, obs_GTZ, obs_HLZ, obs_HZZHMZ, obs_MYZ,
  obs_QZ_BJ, obs_QZ_NAMORS, obs_QZ_QOMS, obs_YJGRHG, obs_YKGQLZZ, obs_YKZ, obs_ZYSDZ];
const pmlSeries = [pml_ARCJZ, pml_BNXJL, pml_CF_CBF, pml_CF_HBG_S01, pml_CF_HBG_W01, pml_CF_NMG, pml_CF_QYF, pml_CF_YCA,
  pml_CN_Cng, pml_CN_Du2, pml_CN_HaM, pml_DMCJZ, pml_DSLZ, pml_DXZ, pml_DYKGTSLZ, pml_GTZ, pml_HLZ, pml_HZZHMZ, pml_MYZ,
  pml_QZ_BJ, pml_QZ_NAMORS, pml_QZ_QOMS, pml_YJGRHG, pml_YKGQLZZ, pml_YKZ, pml_ZYSDZ];

// site means (ALL panel)
const allObs = [2.2, 7.4, 4.08, 2.82, 4.5, 0.9, 4.96, 6.66, 1.9, 0.9, 3.06, 3.33, 1.9, 2.92, 3.93, 3.72, 4.14, 0.8, 2.22, 0.62, 1.0, 0.66, 2.04, 4.32, 0.46, 2.92];
const allPml = [2.6, 7.47, 3.93, 2.46, 3.94, 1.24, 4.77, 4.95, 1.33, 1.18, 2.46, 3.42, 2.5, 4.26, 3.27, 4.65, 3.71, 0.7, 3.59, 0.78, 0.9, 0.6, 1.92, 4.17, 0.46, 3.76];
const allTicks = [0, 2, 4, 6];

// ---- layout / style ----
const FONT = "'Liberation Sans', Arial, Helvetica, sans-serif";
const OBS_COLOR = '#FF4500';
const PML_COLOR = '#4169E1';
const colLeft = [128, 627, 1124, 1622];
const rowTop = [20, 299, 579, 859, 1138, 1418, 1697];
const panelW = 431, stripH = 42, plotH = 200;

const label = s => s.replace(/-/g, '\u2212');

function points(vals, x0, ppy) {
  const out = [];
  vals.forEach((v, i) => { if (v !== null) out.push([x0 + i / ppy, v]); });
  return out;
}
function decimals(ticks) {
  return Math.max(...ticks.map(t => (String(t).split('.')[1] || '').length));
}

const grid = [], xAxis = [], yAxis = [], series = [], graphic = [];
const obsList = [], pmlList = [];

sites.forEach((site, k) => {
  const c = k % 4, r = Math.floor(k / 4);
  const left = colLeft[c], top = rowTop[r];
  grid.push({ left: left, top: top + stripH, width: panelW, height: plotH, show: true,
    backgroundColor: '#EBEBEB', borderWidth: 0 });

  const x0 = startYear[k], x1 = endYear[k];
  const xr = x1 - x0;
  const years = [];
  for (let y = Math.ceil(x0); y <= Math.floor(x1); y++) years.push(y);
  xAxis.push({ gridIndex: k, type: 'value', min: x0 - 0.05 * xr, max: x1 + 0.05 * xr,
    axisLine: { show: false },
    axisTick: { show: true, length: 5, customValues: years, lineStyle: { color: '#333', width: 1.5 } },
    axisLabel: { customValues: years, formatter: v => String(Math.round(v)), fontSize: 18, color: '#4D4D4D',
      fontFamily: FONT, margin: 7 },
    splitLine: { show: true, lineStyle: { color: '#FFFFFF', width: 2 } } });

  const vals = obsSeries[k].concat(pmlSeries[k]).filter(v => v !== null);
  const lo = Math.min(...vals), hi = Math.max(...vals);
  const yr = hi - lo;
  const ticks = yTicks[k];
  const dec = decimals(ticks);
  yAxis.push({ gridIndex: k, type: 'value', min: lo - 0.05 * yr, max: hi + 0.05 * yr,
    axisLine: { show: false },
    axisTick: { show: true, length: 5, customValues: ticks, lineStyle: { color: '#333', width: 1.5 } },
    axisLabel: { customValues: ticks, formatter: v => v.toFixed(dec), fontSize: 23, color: '#4D4D4D',
      fontFamily: FONT, margin: 9 },
    splitLine: { show: true, lineStyle: { color: '#FFFFFF', width: 2 } } });

  obsList.push({ name: 'Observed GPP', type: 'scatter', xAxisIndex: k, yAxisIndex: k,
    data: points(obsSeries[k], x0, perYear[k]), symbol: 'circle', symbolSize: 7.5,
    itemStyle: { color: 'rgba(0,0,0,0)', borderColor: OBS_COLOR, borderWidth: 1.6 } });
  pmlList.push({ name: 'PML-V2(China) GPP', type: 'scatter', xAxisIndex: k, yAxisIndex: k,
    data: points(pmlSeries[k], x0, perYear[k]), symbol: 'circle', symbolSize: 8.5,
    itemStyle: { color: PML_COLOR } });

  graphic.push({ type: 'rect', silent: true, shape: { x: left, y: top, width: panelW, height: stripH },
    style: { fill: '#D9D9D9' } });
  graphic.push({ type: 'text', silent: true, x: left + panelW / 2, y: top + stripH / 2 + 1,
    style: { text: label(site), fontSize: 27, fontWeight: 'bold', fontFamily: FONT, fill: '#1A1A1A',
      textAlign: 'center', textVerticalAlign: 'middle', align: 'center', verticalAlign: 'middle' } });
});

// ALL panel
const A = sites.length;
grid.push({ left: 1154, top: 1700, width: 898, height: 241, show: true, backgroundColor: '#EBEBEB', borderWidth: 0 });
const idx = sites.map((s, i) => i + 1);
xAxis.push({ gridIndex: A, type: 'value', min: 0.4, max: sites.length + 0.6,
  axisLine: { show: false },
  axisTick: { show: true, length: 5, customValues: idx, lineStyle: { color: '#333', width: 1.5 } },
  axisLabel: { customValues: idx, formatter: v => label(sites[Math.round(v) - 1]), rotate: 90, fontSize: 21,
    fontWeight: 'bold', color: '#000', fontFamily: FONT, margin: 10 },
  splitLine: { show: true, lineStyle: { color: '#FFFFFF', width: 2 } } });
const allVals = allObs.concat(allPml, [0]);
const aLo = Math.min(...allVals), aHi = Math.max(...allVals), aR = aHi - aLo;
yAxis.push({ gridIndex: A, type: 'value', min: aLo - 0.05 * aR, max: aHi + 0.05 * aR,
  axisLine: { show: false },
  axisTick: { show: true, length: 5, customValues: allTicks, lineStyle: { color: '#333', width: 1.5 } },
  axisLabel: { customValues: allTicks, fontSize: 18, color: '#4D4D4D', fontFamily: FONT, margin: 8 },
  splitLine: { show: true, lineStyle: { color: '#FFFFFF', width: 2 } } });
obsList.push({ name: 'Observed GPP', type: 'scatter', xAxisIndex: A, yAxisIndex: A,
  data: allObs.map((v, i) => [i + 1, v]), symbol: 'circle', symbolSize: 21,
  itemStyle: { color: 'rgba(0,0,0,0)', borderColor: OBS_COLOR, borderWidth: 2 },
  markLine: { silent: true, symbol: 'none', label: { show: false },
    lineStyle: { color: '#000', type: [9, 7], width: 2.5 }, data: [{ yAxis: 0 }] } });
pmlList.push({ name: 'PML-V2(China) GPP', type: 'scatter', xAxisIndex: A, yAxisIndex: A,
  data: allPml.map((v, i) => [i + 1, v]), symbol: 'circle', symbolSize: 21, itemStyle: { color: PML_COLOR } });

series.push(...obsList, ...pmlList);

graphic.push({ type: 'text', silent: true, x: 1581, y: 1724, scaleX: 0.78,
  style: { text: 'ALL', fontSize: 38, fontFamily: FONT,
    fill: '#000', textAlign: 'center', textVerticalAlign: 'middle', align: 'center', verticalAlign: 'middle' } });

function unitTitle(x, y, pre, size, sup) {
  return { type: 'text', silent: true, x: x, y: y, rotation: Math.PI / 2,
    style: { text: '{a|' + pre + ' ( g C m}{s|\u22122}{a| d}{s|\u22121}{a| )}',
      rich: { a: { fontSize: size, fontFamily: FONT, fill: '#000', color: '#000', lineHeight: size * 1.4, verticalAlign: 'bottom' },
              s: { fontSize: sup, fontFamily: FONT, fill: '#000', color: '#000', lineHeight: size * 1.4, verticalAlign: 'top' } },
      textAlign: 'center', textVerticalAlign: 'middle', align: 'center', verticalAlign: 'middle' } };
}
graphic.push(unitTitle(40, 1000, 'GPP', 32, 21));
graphic.push(unitTitle(1118, 1822, 'Site mean GPP', 18, 12));

const chart = echarts.init(document.getElementById('main'));
chart.setOption({
  animation: false,
  backgroundColor: '#FFFFFF',
  textStyle: { fontFamily: FONT },
  grid: grid,
  xAxis: xAxis,
  yAxis: yAxis,
  series: series,
  graphic: graphic,
  legend: {
    left: 309, top: 1996, itemWidth: 22, itemHeight: 22, itemGap: 17, selectedMode: false,
    formatter: name => label(name),
    textStyle: { fontSize: 22, color: '#000', fontFamily: FONT, padding: [0, 0, 0, 11] },
    data: [
      { name: 'Observed GPP', icon: 'circle', itemStyle: { color: 'rgba(0,0,0,0)', borderColor: OBS_COLOR, borderWidth: 2 } },
      { name: 'PML-V2(China) GPP', icon: 'circle', itemStyle: { color: PML_COLOR } }
    ]
  }
});
</script>
</body>
</html>
